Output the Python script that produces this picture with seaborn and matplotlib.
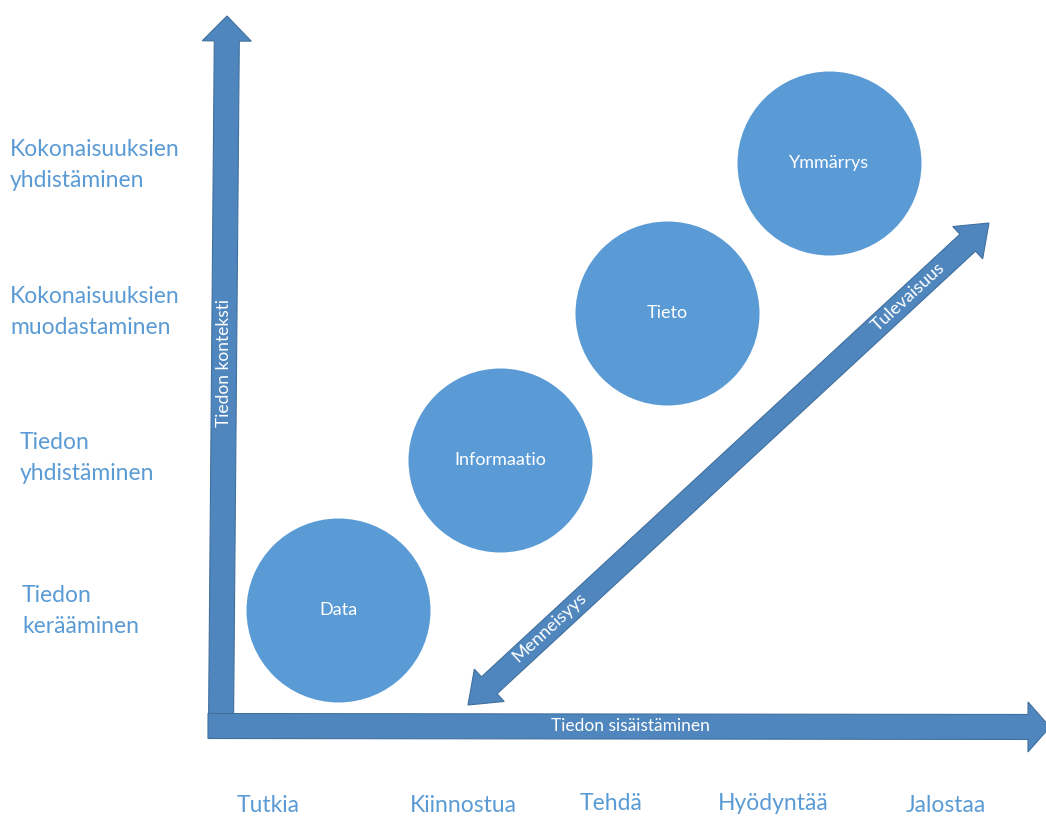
import numpy as np
import matplotlib
matplotlib.use("Agg")
import matplotlib.pyplot as plt
import seaborn as sns
from matplotlib.patches import Polygon

# circles (stages of knowledge), pixel coordinates of the diagram
stages = ["Data", "Informaatio", "Tieto", "Ymmärrys"]
stage_x = [338, 500, 667, 829]
stage_y = [610, 460, 313, 163]
stage_radius = 92

# left column: context levels
context_levels = ["Kokonaisuuksien\nyhdistäminen", "Kokonaisuuksien\nmuodastaminen",
                  "Tiedon\nyhdistäminen", "Tiedon\nkerääminen"]
context_x = [10, 10, 20, 22]
context_y = [165, 312, 458, 611]

# bottom row: actions
actions = ["Tutkia", "Kiinnostua", "Tehdä", "Hyödyntää", "Jalostaa"]
action_x = [268, 463, 611, 773, 946]
action_y = [806, 806, 803, 804, 806]

CIRCLE = "#5b9bd5"
ARROW = "#4f86bd"
EDGE = "#41709e"
LABEL = "#5b9bd5"

sns.set_theme(style="white")
plt.rcParams["font.family"] = ["Lato", "DejaVu Sans"]


def arrow_poly(p0, p1, width, head_w, head_len, both=False):
    p0, p1 = np.asarray(p0, float), np.asarray(p1, float)
    d = p1 - p0
    u = d / np.hypot(*d)
    n = np.array([-u[1], u[0]])
    s0 = p0 + u * head_len if both else p0
    s1 = p1 - u * head_len
    w, hw = width / 2, head_w / 2
    pts = [s0 + n * w, s1 + n * w, s1 + n * hw, p1, s1 - n * hw, s1 - n * w, s0 - n * w]
    if both:
        pts += [s0 - n * hw, p0, s0 + n * hw]
    return np.array(pts)


fig = plt.figure(figsize=(10.46, 8.18), dpi=100)
ax = fig.add_axes([0, 0, 1, 1])

# arrows
for p0, p1, w, hw, hl, both in [
    ((221, 726), (227, 16), 25, 49, 25, False),
    ((208, 726), (1050, 727), 25, 50, 22, False),
    ((468, 705), (989, 223), 23, 44, 29, True),
]:
    ax.add_patch(Polygon(arrow_poly(p0, p1, w, hw, hl, both), closed=True,
                         facecolor=ARROW, edgecolor=EDGE, linewidth=0.8, zorder=2))

# circles
d_pt = 2 * stage_radius * 72 / fig.dpi
sns.scatterplot(x=stage_x, y=stage_y, s=d_pt ** 2, color=CIRCLE, linewidth=0,
                marker="o", legend=False, ax=ax, zorder=3)
for name, x, y in zip(stages, stage_x, stage_y):
    ax.text(x, y, name, color="white", fontsize=13, ha="center", va="center", zorder=4)

# arrow labels
ax.text(224, 363, "Tiedon konteksti", color="white", fontsize=12.5, rotation=90,
        ha="center", va="center", zorder=4)
ax.text(630, 726, "Tiedon sisäistäminen", color="white", fontsize=12.5,
        ha="center", va="center", zorder=4)
ang = np.degrees(np.arctan2(705 - 223, 989 - 468))
ax.text(908, 297, "Tulevaisuus", color="white", fontsize=13, rotation=ang,
        rotation_mode="anchor", ha="center", va="center", zorder=4)
ax.text(550, 627, "Menneisyys", color="white", fontsize=13, rotation=ang,
        rotation_mode="anchor", ha="center", va="center", zorder=4)

for lab, x, y in zip(context_levels, context_x, context_y):
    ax.text(x, y, lab, color=LABEL, fontsize=16.5, ha="left", va="center", linespacing=1.6)
for lab, x, y in zip(actions, action_x, action_y):
    ax.text(x, y, lab, color=LABEL, fontsize=16.5, ha="center", va="center")

ax.set_xlim(0, 1046)
ax.set_ylim(818, 0)
ax.axis("off")

fig.savefig("out.png", dpi=100)
plt.close(fig)
print("save png file: out.png")
